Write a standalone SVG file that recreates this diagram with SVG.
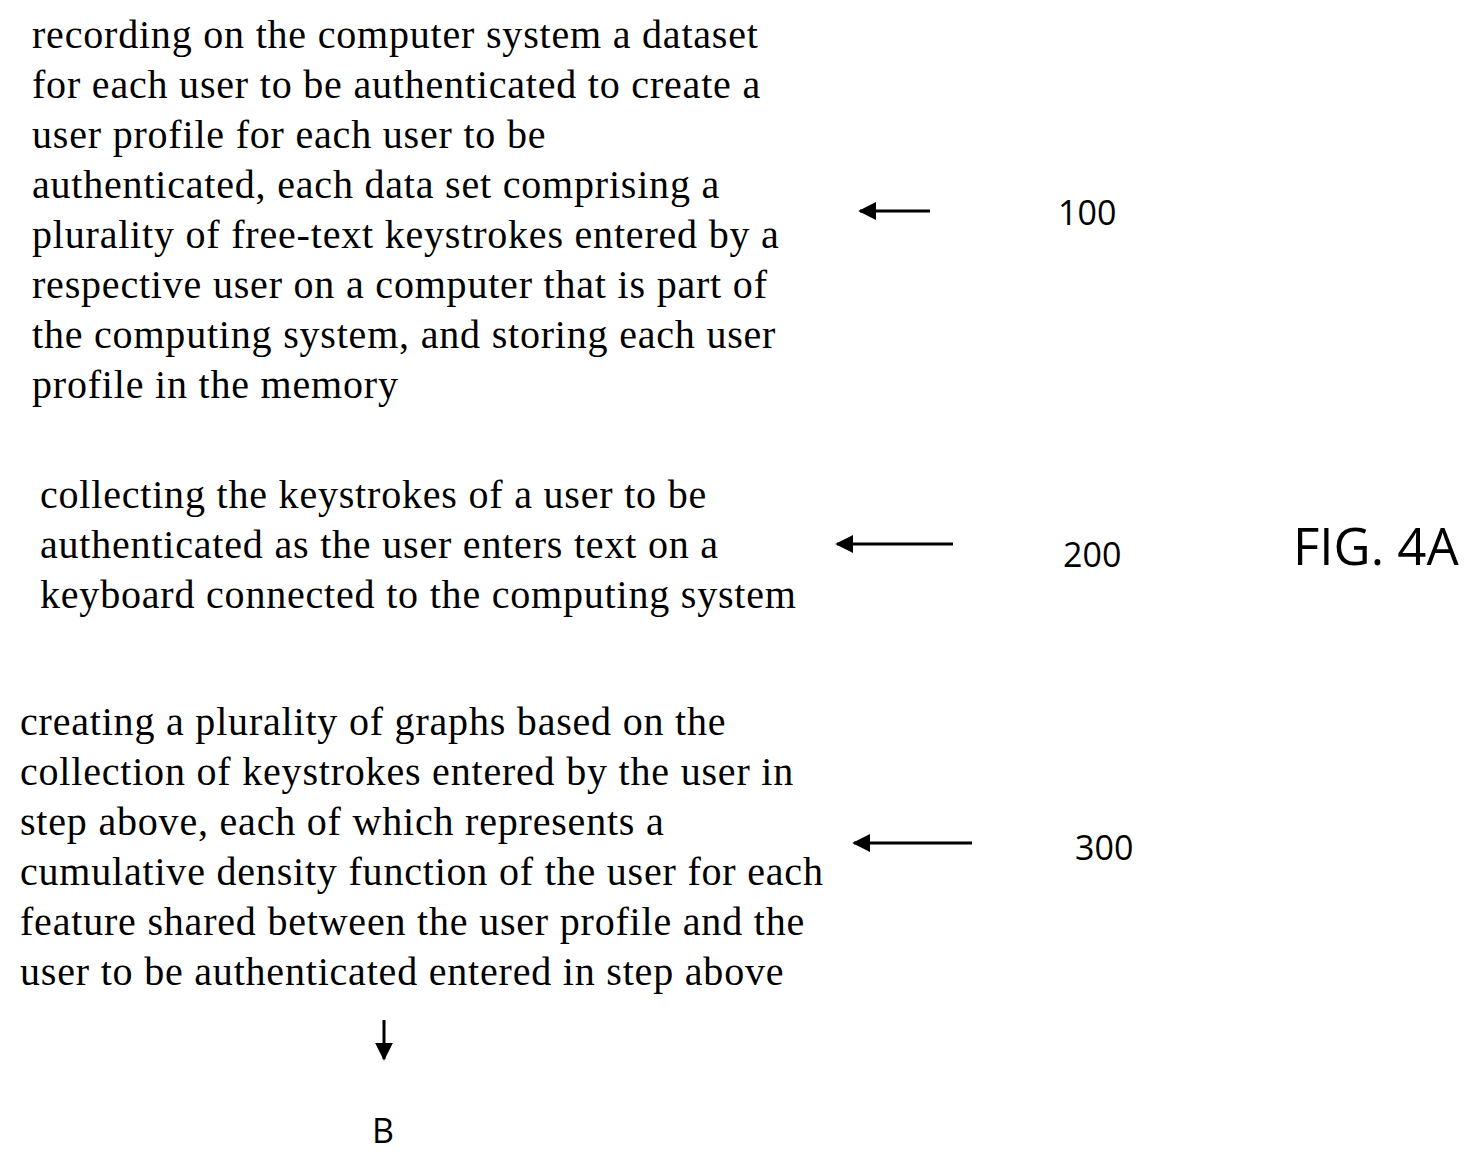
<svg xmlns="http://www.w3.org/2000/svg" width="1479" height="1163" viewBox="0 0 1479 1163">
<style>
.t{font-family:"Liberation Serif",serif;font-size:40px;letter-spacing:0.8px;fill:#000}
.l{font-family:"Open Sans","Noto Sans",sans-serif;font-size:34px;fill:#000}
.c line{stroke:#000;stroke-width:3}
</style>
<defs><marker id="a" viewBox="0 0 10 10" refX="9" refY="5" markerWidth="6" markerHeight="6" orient="auto"><path d="M0,0L10,5L0,10z" fill="#000"/></marker></defs>
<rect width="1479" height="1163" fill="#fff"/>
<g id="n100"><text class="t" x="32" y="48">recording on the computer system a dataset</text>
<text class="t" x="32" y="98">for each user to be authenticated to create a</text>
<text class="t" x="32" y="148">user profile for each user to be</text>
<text class="t" x="32" y="198">authenticated, each data set comprising a</text>
<text class="t" x="32" y="248">plurality of free-text keystrokes entered by a</text>
<text class="t" x="32" y="298">respective user on a computer that is part of</text>
<text class="t" x="32" y="348">the computing system, and storing each user</text>
<text class="t" x="32" y="398">profile in the memory</text>
<text class="l" x="1058" y="225">100</text></g>
<g id="n200"><text class="t" x="40" y="508">collecting the keystrokes of a user to be</text>
<text class="t" x="40" y="558">authenticated as the user enters text on a</text>
<text class="t" x="40" y="608">keyboard connected to the computing system</text>
<text class="l" x="1063" y="567">200</text></g>
<g id="n300"><text class="t" x="20" y="735">creating a plurality of graphs based on the</text>
<text class="t" x="20" y="785">collection of keystrokes entered by the user in</text>
<text class="t" x="20" y="835">step above, each of which represents a</text>
<text class="t" x="20" y="885">cumulative density function of the user for each</text>
<text class="t" x="20" y="935">feature shared between the user profile and the</text>
<text class="t" x="20" y="985">user to be authenticated entered in step above</text>
<text class="l" x="1075" y="860">300</text></g>
<g id="fig"><text class="l" x="1293" y="565" style="font-size:51px">FIG. 4A</text></g>
<g id="nB"><text class="l" x="372" y="1143">B</text></g>
<g class="c">
<line x1="930" y1="211" x2="860" y2="211" marker-end="url(#a)"/>
<line x1="953" y1="544" x2="837" y2="544" marker-end="url(#a)"/>
<line x1="972" y1="843" x2="854" y2="843" marker-end="url(#a)"/>
<line x1="384" y1="1020" x2="384" y2="1059" marker-end="url(#a)"/>
</g>
</svg>
